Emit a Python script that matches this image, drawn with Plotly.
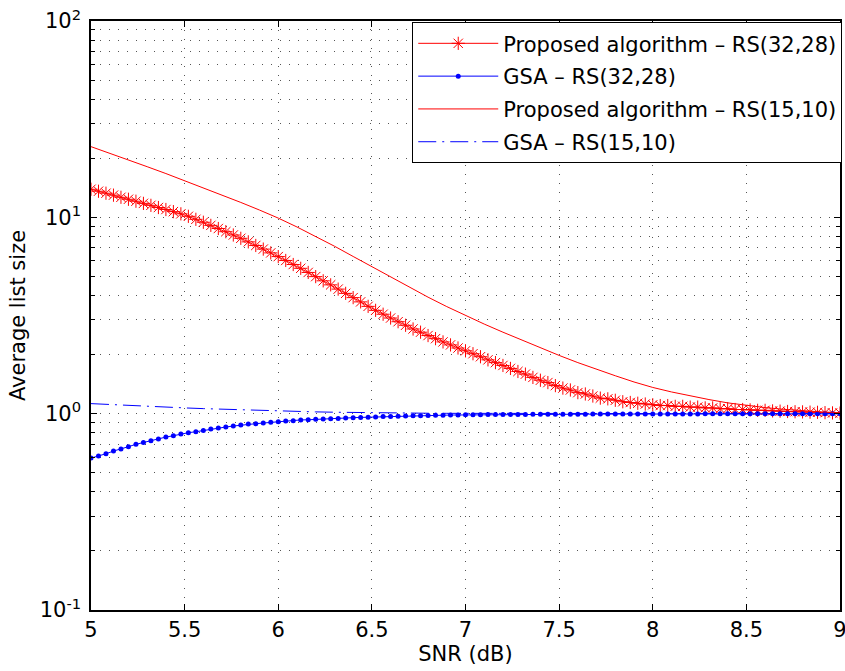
import plotly.graph_objects as go

# ---------------- data ----------------
snr_step = 0.04  # marker spacing of the RS(32,28) curves
proposed_rs3228 = [
    13.90, 13.58, 13.27, 12.97, 12.65, 12.36, 12.08, 11.78, 11.51, 11.22,
    10.96, 10.69, 10.42, 10.12, 9.77, 9.44, 9.10, 8.77, 8.45, 8.13,
    7.82, 7.50, 7.19, 6.89, 6.59, 6.31, 6.03, 5.75, 5.50, 5.24,
    4.99, 4.75, 4.53, 4.31, 4.10, 3.90, 3.71, 3.52, 3.36, 3.21,
    3.07, 2.94, 2.82, 2.70, 2.60, 2.50, 2.41, 2.32, 2.24, 2.16,
    2.09, 2.02, 1.95, 1.88, 1.82, 1.76, 1.70, 1.64, 1.59, 1.53,
    1.48, 1.44, 1.39, 1.35, 1.32, 1.28, 1.26, 1.23, 1.20, 1.19,
    1.17, 1.15, 1.14, 1.13, 1.12, 1.11, 1.10, 1.10, 1.09, 1.09,
    1.08, 1.08, 1.07, 1.07, 1.06, 1.06, 1.05, 1.05, 1.045, 1.04,
    1.04, 1.033, 1.03, 1.026, 1.023, 1.021, 1.018, 1.016, 1.012, 1.009,
    1.007,
]
gsa_rs3228 = [
    0.594, 0.608, 0.625, 0.645, 0.660, 0.679, 0.698, 0.714, 0.728, 0.743,
    0.760, 0.772, 0.787, 0.800, 0.809, 0.822, 0.835, 0.845, 0.855, 0.865,
    0.875, 0.886, 0.889, 0.896, 0.903, 0.910, 0.918, 0.921, 0.929, 0.931,
    0.936, 0.939, 0.943, 0.946, 0.950, 0.954, 0.957, 0.960, 0.963, 0.966,
    0.968, 0.971, 0.973, 0.975, 0.977, 0.979, 0.981, 0.982, 0.984, 0.985,
    0.986, 0.987, 0.988, 0.989, 0.989, 0.990, 0.990, 0.991, 0.991, 0.992,
    0.992, 0.993, 0.993, 0.993, 0.994, 0.994, 0.994, 0.995, 0.995, 0.995,
    0.995, 0.996, 0.996, 0.996, 0.996, 0.996, 0.997, 0.997, 0.997, 0.997,
    0.997, 0.997, 0.998, 0.998, 0.998, 0.998, 0.998, 0.998, 0.998, 0.998,
    0.999, 0.999, 0.999, 0.999, 0.999, 0.999, 0.999, 0.999, 0.999, 0.999,
    0.999,
]
snr_fine = [5 + snr_step * i for i in range(len(proposed_rs3228))]

snr_coarse = [5.0, 5.1, 5.2, 5.3, 5.4, 5.5, 5.6, 5.7, 5.8, 5.9,
              6.0, 6.1, 6.2, 6.3, 6.4, 6.5, 6.6, 6.7, 6.8, 6.9,
              7.0, 7.1, 7.2, 7.3, 7.4, 7.5, 7.6, 7.7, 7.8, 7.9,
              8.0, 8.1, 8.2, 8.3, 8.4, 8.5, 8.6, 8.7, 8.8, 8.9, 9.0]
proposed_rs1510 = [22.91, 21.23, 19.63, 18.11, 16.71, 15.38, 14.16, 13.00, 11.91, 10.89,
                   9.91, 8.93, 8.00, 7.13, 6.32, 5.60, 4.95, 4.40, 3.92, 3.51,
                   3.16, 2.86, 2.60, 2.37, 2.16, 1.98, 1.82, 1.68, 1.56, 1.45,
                   1.36, 1.29, 1.23, 1.18, 1.135, 1.10, 1.074, 1.052, 1.035, 1.021,
                   1.012]
gsa_rs1510 = [1.125, 1.112, 1.100, 1.089, 1.079, 1.070, 1.061, 1.053, 1.045, 1.038,
              1.031, 1.026, 1.021, 1.017, 1.013, 1.010, 1.008, 1.006, 1.005, 1.004,
              1.003, 1.003, 1.002, 1.002, 1.002, 1.002, 1.001, 1.001, 1.001, 1.001,
              1.001, 1.001, 1.001, 1.000, 1.000, 1.000, 1.000, 1.000, 1.000, 1.000,
              1.000]

x_ticks = [5, 5.5, 6, 6.5, 7, 7.5, 8, 8.5, 9]
x_tick_text = ["5", "5.5", "6", "6.5", "7", "7.5", "8", "8.5", "9"]
y_ticks = [0.1, 1, 10, 100]
y_tick_text = ["10<sup>-1</sup>", "10<sup>0</sup>", "10<sup>1</sup>", "10<sup>2</sup>"]
y_minor = [m * d for d in (0.1, 1, 10) for m in range(2, 10)]

names = ["Proposed algorithm \u2013 RS(32,28)", "GSA \u2013 RS(32,28)",
         "Proposed algorithm \u2013 RS(15,10)", "GSA \u2013 RS(15,10)"]

# ---------------- figure ----------------
RED = "#ff0000"
BLUE = "#0000ff"
FONT = "DejaVu Sans, Liberation Sans, Arial, sans-serif"

fig = go.Figure()
fig.add_trace(go.Scatter(
    x=snr_fine, y=proposed_rs3228, name=names[0], mode="lines+markers",
    legendgroup="a",
    line=dict(color=RED, width=1),
    marker=dict(symbol="asterisk-open", size=11, color=RED,
                line=dict(color=RED, width=1)),
))
fig.add_trace(go.Scatter(
    x=snr_fine, y=gsa_rs3228, name=names[1], mode="lines+markers",
    legendgroup="b",
    line=dict(color=BLUE, width=1),
    marker=dict(symbol="circle", size=5, color=BLUE),
))
fig.add_trace(go.Scatter(
    x=snr_coarse, y=proposed_rs1510, name=names[2], mode="lines",
    legendgroup="c",
    line=dict(color=RED, width=1),
))
fig.add_trace(go.Scatter(
    x=snr_coarse, y=gsa_rs1510, name=names[3], mode="lines",
    legendgroup="d",
    line=dict(color=BLUE, width=1, dash="18px,6px,2px,6px"),
))

GRID = "#555555"
GRID_DASH = "1px,8px"

fig.update_layout(
    width=845, height=671,
    margin=dict(l=91, r=5, t=21, b=61, autoexpand=False),
    paper_bgcolor="white", plot_bgcolor="white",
    font=dict(family=FONT, size=21, color="black"),
    showlegend=True,
    legend=dict(
        x=1.003, y=0.998, xanchor="right", yanchor="top",
        bgcolor="white", bordercolor="black", borderwidth=1,
        font=dict(family=FONT, size=21, color="black"),
        itemwidth=80, tracegroupgap=2.5, traceorder="grouped",
    ),
    xaxis=dict(
        range=[5, 9], tickmode="array", tickvals=x_ticks, ticktext=x_tick_text,
        showline=True, linecolor="black", linewidth=1.5, mirror="allticks",
        ticks="inside", ticklen=6, tickcolor="black",
        ticklabeloverflow="allow",
        showgrid=True, gridcolor=GRID, gridwidth=1, griddash=GRID_DASH,
        zeroline=False,
        title=dict(text="SNR (dB)", standoff=4, font=dict(size=21)),
    ),
    yaxis=dict(
        type="log", range=[-1, 2], tickmode="array", tickvals=y_ticks,
        ticktext=y_tick_text, ticklabeloverflow="allow", ticklabelstandoff=4,
        showline=True, linecolor="black", linewidth=1.5, mirror="allticks",
        ticks="inside", ticklen=6, tickcolor="black",
        showgrid=True, gridcolor=GRID, gridwidth=1, griddash=GRID_DASH,
        zeroline=False,
        minor=dict(tickmode="array", tickvals=y_minor, ticks="inside", ticklen=4,
                   tickcolor="black", showgrid=True, gridcolor=GRID,
                   gridwidth=1, griddash=GRID_DASH),
        title=dict(text="Average list size", standoff=8, font=dict(size=21)),
    ),
)

# remove the browser's default page margin so the figure sits at (0, 0)
fig.write_html(
    "out.html",
    config={"displayModeBar": False},
    post_script="document.body.style.margin='0';document.body.style.padding='0';"
                "document.body.style.overflow='hidden';",
)
